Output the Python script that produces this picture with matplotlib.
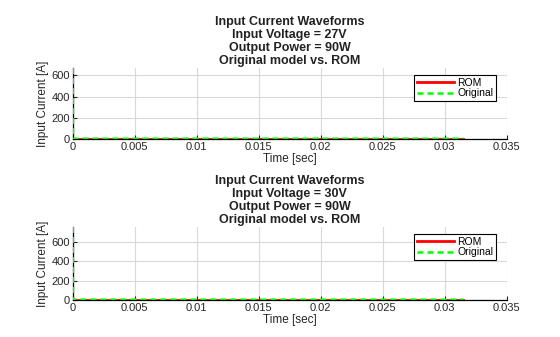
import matplotlib
matplotlib.use("Agg")
import matplotlib.pyplot as plt

plt.rcParams['font.family'] = ['Liberation Sans', 'DejaVu Sans']

# Time samples [sec]
time_27 = [0.0, 0.00002, 0.0005, 0.005, 0.01, 0.015, 0.02, 0.025, 0.03, 0.0315]
time_30 = [0.0, 0.00002, 0.0005, 0.005, 0.01, 0.015, 0.02, 0.025, 0.03, 0.0315]

# Input current [A]
rom_27 = [3.3, 3.3, 3.3, 3.3, 3.3, 3.3, 3.3, 3.3, 3.3, 3.3]
orig_27 = [669, 3.4, 3.3, 3.3, 3.3, 3.3, 3.3, 3.3, 3.3, 3.3]
rom_30 = [3.0, 3.0, 3.0, 3.0, 3.0, 3.0, 3.0, 3.0, 3.0, 3.0]
orig_30 = [756, 3.1, 3.0, 3.0, 3.0, 3.0, 3.0, 3.0, 3.0, 3.0]

voltages = ["27V", "30V"]
power = "90W"
x_ticks = [0, 0.005, 0.01, 0.015, 0.02, 0.025, 0.03, 0.035]
x_tick_labels = ["0", "0.005", "0.01", "0.015", "0.02", "0.025", "0.03", "0.035"]
y_ticks = [0, 200, 400, 600]

fig = plt.figure(figsize=(5.6, 3.37), dpi=100)
ax_top = fig.add_axes([0.130, 0.5875, 0.775, 0.2105])
ax_bot = fig.add_axes([0.130, 0.110, 0.775, 0.2165])

panels = [
    (ax_top, time_27, rom_27, orig_27, voltages[0]),
    (ax_bot, time_30, rom_30, orig_30, voltages[1]),
]

for ax, t, rom, orig, v in panels:
    ax.plot(t, rom, color="#ff0000", lw=2, label="ROM", zorder=3)
    ax.plot(t, orig, color="#00ff00", lw=1.8, ls=(0, (2.4, 1.6)), label="Original", zorder=4)
    ax.set_xlim(0, 0.035)
    ax.set_ylim(0, max(orig))
    ax.set_xticks(x_ticks)
    ax.set_xticklabels(x_tick_labels)
    ax.set_yticks(y_ticks)
    ax.grid(True, color="#d9d9d9", lw=0.8)
    ax.set_axisbelow(True)
    for s in ("top", "right"):
        ax.spines[s].set_visible(False)
    for s in ("left", "bottom"):
        ax.spines[s].set_linewidth(0.9)
    ax.tick_params(direction="in", length=3, labelsize=8, colors="#262626", pad=2)
    ax.set_xlabel("Time [sec]", fontsize=8.5, labelpad=1, color="#262626")
    ax.set_ylabel("Input Current [A]", fontsize=8.5, labelpad=2, color="#262626")
    ax.set_title(
        f"Input Current Waveforms\nInput Voltage = {v}\nOutput Power = {power}\nOriginal model vs. ROM",
        fontsize=9, fontweight="bold", linespacing=1.12, pad=3, color="#222222",
    )
    leg = ax.legend(loc="upper right", bbox_to_anchor=(0.975, 0.9), fontsize=7.5,
                    fancybox=False, framealpha=1, edgecolor="black",
                    handlelength=3.6, handletextpad=0.3, borderpad=0.25,
                    labelspacing=0.05, borderaxespad=0)
    leg.get_frame().set_linewidth(0.8)

fig.savefig("out.png", dpi=100)
